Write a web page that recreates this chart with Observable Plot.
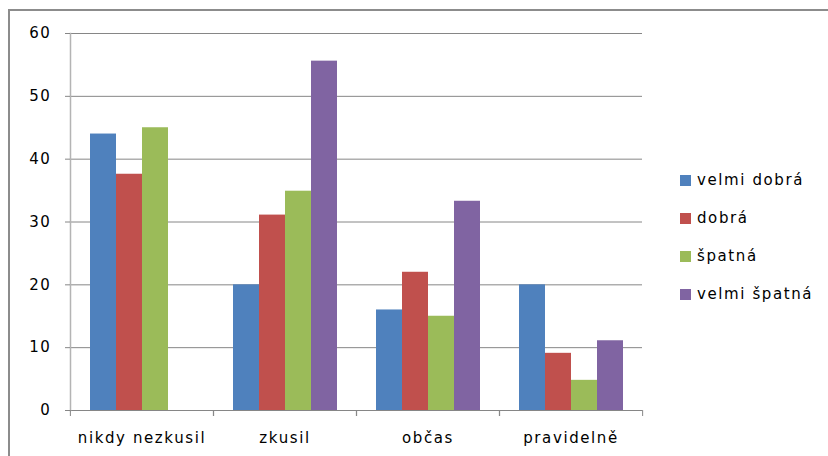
<!DOCTYPE html>
<html>
<head>
<meta charset="utf-8">
<script src="https://cdn.jsdelivr.net/npm/d3@7"></script>
<script src="https://cdn.jsdelivr.net/npm/@observablehq/plot@0.6"></script>
<style>
  html, body { margin: 0; padding: 0; background: #fff; }
  #wrap { position: relative; width: 828px; height: 456px; overflow: hidden; font-family: "DejaVu Sans", sans-serif; }
  #border { position: absolute; left: 8px; top: 9px; width: 840px; height: 470px; border: 2px solid #8c8c8c; box-sizing: border-box; }
  #chart { position: absolute; left: 0; top: 0; }
  #legend { position: absolute; left: 680px; top: 161px; font-size: 15px; letter-spacing: 1.6px; color: #000; }
  .item { display: flex; align-items: center; height: 38px; line-height: 20px; }
  .sw { width: 11px; height: 11px; margin-right: 6px; }
  #chart svg text { letter-spacing: 1.6px; }
</style>
</head>
<body>
<div id="wrap">
  <div id="border"></div>
  <div id="chart"></div>
  <div id="legend"></div>
</div>
<script>
const categories = ["nikdy nezkusil", "zkusil", "občas", "pravidelně"];
const seriesNames = ["velmi dobrá", "dobrá", "špatná", "velmi špatná"];
const colors = ["#4F81BD", "#C0504D", "#9BBB59", "#8064A2"];
const velmiDobra = [44, 20, 16, 20];
const dobra = [37.6, 31.1, 22, 9.1];
const spatna = [45, 34.9, 15, 4.8];
const velmiSpatna = [0, 55.6, 33.3, 11.1];
const yTicks = [0, 10, 20, 30, 40, 50, 60];

const seriesValues = [velmiDobra, dobra, spatna, velmiSpatna];
const data = [];
categories.forEach((c, i) => {
  seriesNames.forEach((s, j) => {
    data.push({category: c, series: s, value: seriesValues[j][i]});
  });
});

const W = 828, H = 456, ML = 69, MR = 186, MT = 33, MB = 46;
const halfBand = (W - ML - MR) / categories.length / 2;

const chart = Plot.plot({
  width: W,
  height: H,
  marginLeft: ML,
  marginRight: MR,
  marginTop: MT,
  marginBottom: MB,
  style: {fontFamily: "DejaVu Sans, sans-serif", fontSize: "15px", color: "#000", background: "transparent"},
  fx: {domain: categories, padding: 0, label: null},
  x: {domain: seriesNames, paddingInner: 0, paddingOuter: 0.75, axis: null},
  y: {domain: [0, 60], label: null},
  color: {domain: seriesNames, range: colors},
  marks: [
    Plot.ruleY(yTicks, {stroke: "#868686", strokeWidth: 1, strokeOpacity: 1}),
    Plot.barY(data, {fx: "category", x: "series", y: "value", fill: "series"}),
    // y axis line (leftmost facet only)
    Plot.frame({anchor: "left", facetAnchor: "left", stroke: "#b4b4b4", strokeWidth: 1.5}),
    Plot.axisY(yTicks, {tickSize: 5, tickPadding: 14, stroke: "#868686", fontSize: 15, label: null}),
    // category labels
    Plot.axisFx({anchor: "bottom", tickSize: 0, tickPadding: 22, fontSize: 15, label: null}),
    // category boundary ticks (left edge of each band, and right edge of last)
    Plot.axisFx({anchor: "bottom", tickSize: 6, text: null, dx: -halfBand, stroke: "#868686", strokeOpacity: 1, label: null}),
    Plot.axisFx([categories[categories.length - 1]], {anchor: "bottom", tickSize: 6, text: null, dx: halfBand, stroke: "#868686", strokeOpacity: 1, label: null})
  ]
});
document.getElementById("chart").appendChild(chart);

const legend = document.getElementById("legend");
seriesNames.forEach((s, j) => {
  const item = document.createElement("div");
  item.className = "item";
  const sw = document.createElement("span");
  sw.className = "sw";
  sw.style.background = colors[j];
  const t = document.createElement("span");
  t.textContent = s;
  item.appendChild(sw);
  item.appendChild(t);
  legend.appendChild(item);
});
</script>
</body>
</html>
